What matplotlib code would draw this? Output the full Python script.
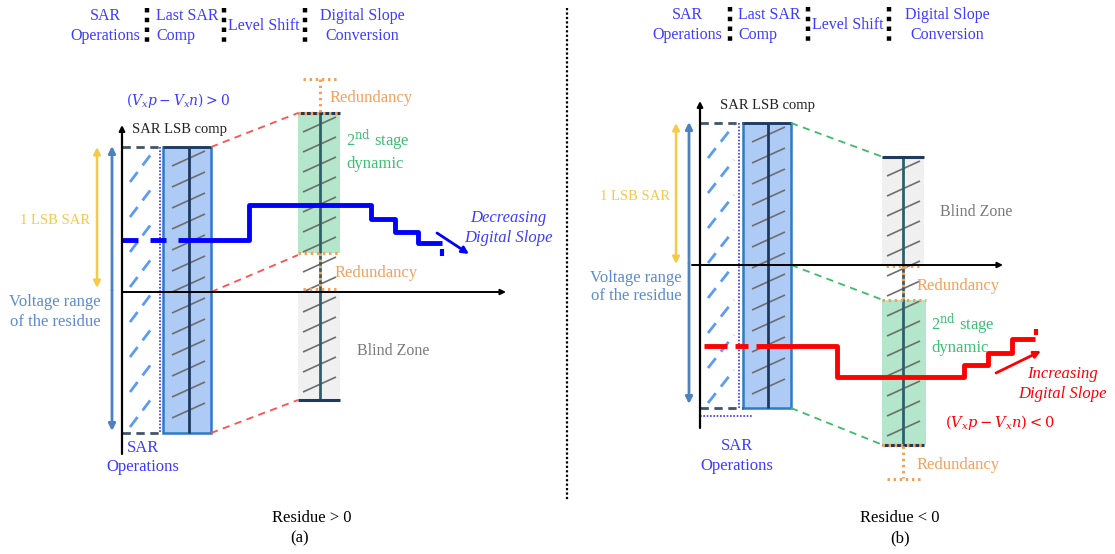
import matplotlib.pyplot as plt
import numpy as np

plt.rcParams['font.family'] = ['Liberation Serif', 'DejaVu Serif']
plt.rcParams['mathtext.fontset'] = 'dejavuserif'

# colours
C_HEAD = '#3c3cff'
C_BLUE = '#0000ff'
C_RED = '#ff0000'
C_ORANGE = '#f2a25c'
C_GREEN_T = '#3fbf74'
C_YELLOW = '#f7c948'
C_STEEL = '#4f81bd'
C_NAVY = '#1f3a60'
C_HATCH = '#6e6e6e'
C_LBLUE = '#5b9cf2'

FS = 11.5

# header labels (shared by both panels)
HEAD_LABELS = ['SAR\nOperations', 'Last SAR\nComp', 'Level Shift', 'Digital Slope\nConversion']
HEAD_X_A = [105, 156, 264, 362]
HEAD_X_B = [687, 738, 848, 947]
SEP_X_A = [147, 224, 305]
SEP_X_B = [730, 808, 889]

# residue step traces (pixel coordinates of the original figure)
A_DASHES = [(122, 138), (150, 166)]
A_STEP_X = [178, 249, 249, 371, 371, 395, 395, 418, 418, 442]
A_STEP_Y = [240, 240, 205, 205, 219, 219, 232, 232, 243, 243]
B_DASHES = [(704, 727), (735, 748)]
B_STEP_X = [756, 837, 837, 964, 964, 988, 988, 1012, 1012, 1035]
B_STEP_Y = [346, 346, 377, 377, 365, 365, 353, 353, 339, 339]

fig = plt.figure(figsize=(11.15, 5.54), dpi=100)
ax = fig.add_axes([0, 0, 1, 1])
ax.set_xlim(0, 1115)
ax.set_ylim(554, 0)
ax.axis('off')


def line(xs, ys, **kw):
    ax.plot(xs, ys, solid_capstyle='butt', dash_capstyle='butt', **kw)


def arrow(x0, y0, x1, y1, color, lw=1.5, style='-|>', ms=10):
    ax.annotate('', xy=(x1, y1), xytext=(x0, y0),
                arrowprops=dict(arrowstyle=style, color=color, lw=lw,
                                mutation_scale=ms, shrinkA=0, shrinkB=0))


def gray_hatch(x0, x1, ytop, ybot, step=20.5, rise=15):
    for y in np.arange(ytop + rise + 4, ybot + 1, step):
        line([x0, x1], [y, y - rise], color=C_HATCH, lw=1.2)


def blue_dash_hatch(x0, x1, ytop, ybot, step=35, rise=33):
    for y in np.arange(ytop + rise + 2, ybot + 1, step):
        line([x0, x1], [y, y - rise], color=C_LBLUE, lw=2,
             linestyle=(0, (4.5, 3)))


def header(xs, seps, y0):
    for lab, x, ha in zip(HEAD_LABELS, xs, ['center', 'left', 'center', 'center']):
        ax.text(x, y0, lab, ha=ha, va='center', color=C_HEAD, fontsize=FS,
                linespacing=1.3, multialignment='left' if ha == 'left' else 'center')
    for x in seps:
        line([x, x], [y0 - 18, y0 + 16], color='black', lw=3.2,
             linestyle=(0, (1, 1.2)))


def sar_block(ax_x, ytop, ybot, rx0, rx1, rc, dot_x):
    # dashed limits, light-blue hatch, dotted boundary, blue comparator block
    line([ax_x, rx0], [ytop, ytop], color='#44546a', lw=2, linestyle=(0, (3, 2)))
    line([ax_x, rx0], [ybot, ybot], color='#44546a', lw=2, linestyle=(0, (3, 2)))
    blue_dash_hatch(ax_x + 8, dot_x - 5, ytop, ybot)
    line([dot_x, dot_x], [ytop, ybot], color='#3333ff', lw=1.2, linestyle=(0, (1, 1)))
    ax.add_patch(plt.Rectangle((rx0, ytop), rx1 - rx0, ybot - ytop, facecolor='#aecbf6',
                               edgecolor='#2e7bc4', lw=1.8, zorder=1))
    line([rx0, rx1], [ytop, ytop], color=C_NAVY, lw=2)
    gray_hatch(rx0 + 9, rx1 - 6, ytop, ybot, step=21)
    line([rc, rc], [ytop, ybot], color=C_NAVY, lw=2)


def orange_dots(xs, ys):
    line(xs, ys, color=C_ORANGE, lw=2.2, linestyle=(0, (0.8, 1.2)))


def step_trace(dashes, xs, ys, color):
    for (x0, x1) in dashes:
        line([x0, x1], [ys[0], ys[0]], color=color, lw=3.5)
    line(xs, ys, color=color, lw=3.5)


# ---------------- panel (a) ----------------
header(HEAD_X_A, SEP_X_A, 26)

sar_block(122, 147, 433, 163, 211, 189, 160)
arrow(122, 454, 122, 125, 'black', lw=1.6, ms=8)
arrow(122, 292, 506, 292, 'black', lw=1.4, ms=8)

arrow(97, 217, 97, 147, C_YELLOW, lw=1.8)
arrow(97, 217, 97, 288, C_YELLOW, lw=1.8)
arrow(112, 290, 112, 146, C_STEEL, lw=2)
arrow(112, 290, 112, 431, C_STEEL, lw=2)

for (x0, y0, x1, y1) in [(211, 147, 298, 113), (211, 292, 298, 255), (211, 433, 298, 400)]:
    line([x0, x1], [y0, y1], color='#ff5050', lw=1.3, linestyle=(0, (4, 3)))

ax.add_patch(plt.Rectangle((298, 113), 42, 140, facecolor='#b3e6ca', edgecolor='none', zorder=0))
ax.add_patch(plt.Rectangle((298, 292), 42, 108, facecolor='#f0f0f0', edgecolor='none', zorder=0))
gray_hatch(303, 336, 113, 400, step=20)
line([320, 320], [113, 400], color='#2f5f6a', lw=2)
line([298, 340], [113, 113], color=C_NAVY, lw=2.2)
line([298, 340], [400, 400], color=C_NAVY, lw=2.2)
orange_dots([303, 337], [79, 79])
orange_dots([320, 320], [79, 112])
orange_dots([298, 340], [113, 113])
orange_dots([298, 340], [253, 253])
orange_dots([320, 320], [253, 289])
orange_dots([303, 337], [289, 289])

ax.text(330, 98, 'Redundancy', color=C_ORANGE, fontsize=12, va='center')
ax.text(335, 273, 'Redundancy', color=C_ORANGE, fontsize=12, va='center')
ax.text(357, 351, 'Blind Zone', color='#7a7a7a', fontsize=FS, va='center')
ax.text(346, 150, '2$^{\\mathrm{nd}}$ stage\ndynamic', color=C_GREEN_T, fontsize=12,
        va='center', linespacing=1.25)

step_trace(A_DASHES, A_STEP_X, A_STEP_Y, C_BLUE)
line([442, 442], [249, 256], color=C_BLUE, lw=3)
arrow(437, 233, 469, 254, C_BLUE, lw=2, ms=10)
ax.text(508, 228, 'Decreasing\nDigital Slope', color=C_HEAD, fontsize=12, style='italic',
        ha='center', va='center', linespacing=1.25)

ax.text(178, 101, r'$(V_xp-V_xn)>0$', color=C_HEAD, fontsize=10, ha='center', va='center')
ax.text(132, 130, 'SAR LSB comp', color='#222222', fontsize=10.5, va='center')
ax.text(55, 220, '1 LSB SAR', color=C_YELLOW, fontsize=10.5, ha='center', va='center')
ax.text(55, 312, 'Voltage range\nof the residue', color='#5b8bd0', fontsize=12,
        ha='center', va='center', linespacing=1.25)
ax.text(127, 448, 'SAR', color=C_HEAD, fontsize=12, va='center')
ax.text(143, 467, 'Operations', color=C_HEAD, fontsize=12, ha='center', va='center')

# ---------------- divider ----------------
line([567, 567], [8, 500], color='black', lw=1.6, linestyle=(0, (1, 1)))

# ---------------- panel (b) ----------------
header(HEAD_X_B, SEP_X_B, 25)

sar_block(700, 123, 408, 743, 791, 768, 739)
line([700, 752], [416, 416], color='#3333ff', lw=1.2, linestyle=(0, (1, 1)))
arrow(700, 428, 700, 101, 'black', lw=1.6, ms=8)
arrow(692, 265, 1003, 265, 'black', lw=1.4, ms=8)

arrow(676, 193, 676, 123, C_YELLOW, lw=1.8)
arrow(676, 193, 676, 264, C_YELLOW, lw=1.8)
arrow(689, 263, 689, 122, C_STEEL, lw=2)
arrow(689, 263, 689, 404, C_STEEL, lw=2)

for (x0, y0, x1, y1) in [(791, 123, 883, 157), (791, 265, 883, 300), (791, 408, 883, 445)]:
    line([x0, x1], [y0, y1], color='#3dbb6a', lw=1.3, linestyle=(0, (4, 3)))

ax.add_patch(plt.Rectangle((882, 157), 42, 108, facecolor='#f0f0f0', edgecolor='none', zorder=0))
ax.add_patch(plt.Rectangle((882, 300), 44, 145, facecolor='#b3e6ca', edgecolor='none', zorder=0))
gray_hatch(887, 920, 157, 445, step=20)
line([903, 903], [157, 445], color='#2f5f6a', lw=2)
line([882, 924], [157, 157], color=C_NAVY, lw=2.2)
line([882, 924], [445, 445], color=C_NAVY, lw=2.2)
orange_dots([886, 920], [266, 266])
orange_dots([903, 903], [266, 300])
orange_dots([882, 926], [300, 300])
orange_dots([882, 924], [445, 445])
orange_dots([903, 903], [446, 478])
orange_dots([887, 921], [479, 479])

ax.text(940, 212, 'Blind Zone', color='#7a7a7a', fontsize=FS, va='center')
ax.text(917, 286, 'Redundancy', color=C_ORANGE, fontsize=12, va='center')
ax.text(917, 465, 'Redundancy', color=C_ORANGE, fontsize=12, va='center')
ax.text(931, 334, '2$^{\\mathrm{nd}}$ stage\ndynamic', color=C_GREEN_T, fontsize=12,
        va='center', linespacing=1.25)

step_trace(B_DASHES, B_STEP_X, B_STEP_Y, C_RED)
line([1036, 1036], [329, 335], color=C_RED, lw=3)
arrow(996, 373, 1041, 351, C_RED, lw=2, ms=10)
ax.text(1062, 384, 'Increasing\nDigital Slope', color=C_RED, fontsize=12, style='italic',
        ha='center', va='center', linespacing=1.25)
ax.text(1000, 423, r'$(V_xp-V_xn)<0$', color=C_RED, fontsize=10.5, ha='center', va='center')

ax.text(720, 106, 'SAR LSB comp', color='#222222', fontsize=10.5, va='center')
ax.text(635, 196, '1 LSB SAR', color=C_YELLOW, fontsize=10.5, ha='center', va='center')
ax.text(636, 287, 'Voltage range\nof the residue', color='#5b8bd0', fontsize=12,
        ha='center', va='center', linespacing=1.25)
ax.text(737, 456, 'SAR\nOperations', color=C_HEAD, fontsize=12, ha='center', va='center',
        linespacing=1.25)

# captions
ax.text(312, 518, 'Residue > 0', fontsize=12, ha='center', va='center')
ax.text(300, 538, '(a)', fontsize=12, ha='center', va='center')
ax.text(900, 518, 'Residue < 0', fontsize=12, ha='center', va='center')
ax.text(900, 538, '(b)', fontsize=12, ha='center', va='center')

fig.savefig('out.png', dpi=100)
